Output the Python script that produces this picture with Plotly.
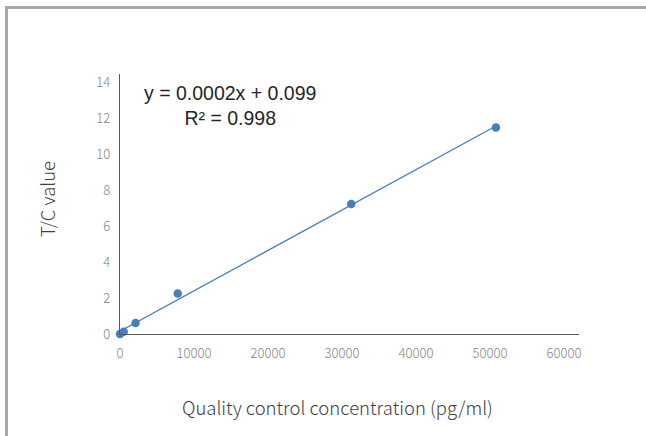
import numpy as np
import plotly.graph_objects as go

# Data
concentration = [0, 500, 2100, 7800, 31250, 50800]
tc_value = [0.0, 0.13, 0.61, 2.25, 7.22, 11.48]

x_ticks = [0, 10000, 20000, 30000, 40000, 50000, 60000]
y_ticks = [0, 2, 4, 6, 8, 10, 12, 14]

equation_text = "y = 0.0002x + 0.099<br>R² = 0.998"
x_title = "Quality control concentration (pg/ml)"
y_title = "T/C value"

# Linear trendline from the data
slope, intercept = np.polyfit(concentration, tc_value, 1)
line_x = [0, max(concentration)]
line_y = [intercept + slope * v for v in line_x]

W, H = 646, 436
L, R, T, B = 120, 67, 74, 102
pw, ph = W - L - R, H - T - B

blue = "#4a7ebb"
tick_font = dict(family="Noto Sans CJK SC, Noto Sans", size=13, color="#858585", weight=300)

fig = go.Figure()
fig.add_trace(go.Scatter(x=line_x, y=line_y, mode="lines",
                         line=dict(color=blue, width=1.4), hoverinfo="skip",
                         cliponaxis=False))
fig.add_trace(go.Scatter(x=concentration, y=tc_value, mode="markers",
                         marker=dict(color=blue, size=8.5), cliponaxis=False))

def px_to_paper_x(px):
    return (px - L) / pw

def px_to_paper_y(py):
    return (H - B - py) / ph

frame_color = "#a8a8a8"
fig.add_shape(type="line", xref="paper", yref="paper",
              x0=px_to_paper_x(6.5), x1=px_to_paper_x(6.5),
              y0=px_to_paper_y(440), y1=px_to_paper_y(6),
              line=dict(color=frame_color, width=3))
fig.add_shape(type="line", xref="paper", yref="paper",
              x0=px_to_paper_x(5), x1=px_to_paper_x(650),
              y0=px_to_paper_y(7.5), y1=px_to_paper_y(7.5),
              line=dict(color=frame_color, width=3))

fig.add_annotation(xref="paper", yref="paper",
                   x=px_to_paper_x(230), y=px_to_paper_y(105),
                   xanchor="center", yanchor="middle",
                   text=equation_text, showarrow=False, align="center",
                   font=dict(family="Liberation Sans, Arial", size=19.5, color="#262626"))
fig.add_annotation(xref="paper", yref="paper",
                   x=px_to_paper_x(337), y=px_to_paper_y(407),
                   xanchor="center", yanchor="middle",
                   text=x_title, showarrow=False,
                   font=dict(family="Noto Sans CJK SC, Noto Sans", size=18.5, color="#404040", weight=300))
fig.add_annotation(xref="paper", yref="paper",
                   x=px_to_paper_x(47), y=px_to_paper_y(199),
                   xanchor="center", yanchor="middle",
                   text=y_title, showarrow=False, textangle=-90,
                   font=dict(family="Noto Sans CJK SC, Noto Sans", size=18.5, color="#404040", weight=300))

fig.update_layout(
    width=W, height=H,
    margin=dict(l=L, r=R, t=T, b=B, pad=0),
    plot_bgcolor="white", paper_bgcolor="white",
    showlegend=False,
    xaxis=dict(range=[0, (W - R - L) / 0.0074], tickvals=x_ticks, tickformat="d",
               showgrid=False, zeroline=False, showline=True,
               linecolor="#595959", linewidth=1.3, ticks="",
               tickfont=tick_font, ticklabelstandoff=7),
    yaxis=dict(range=[0, 14.45], tickvals=y_ticks,
               showgrid=False, zeroline=False, showline=True,
               linecolor="#595959", linewidth=1.3, ticks="",
               tickfont=tick_font, ticklabelstandoff=6),
)

fig.write_html("out.html", config={"displayModeBar": False},
               post_script="document.body.style.margin='0';")
